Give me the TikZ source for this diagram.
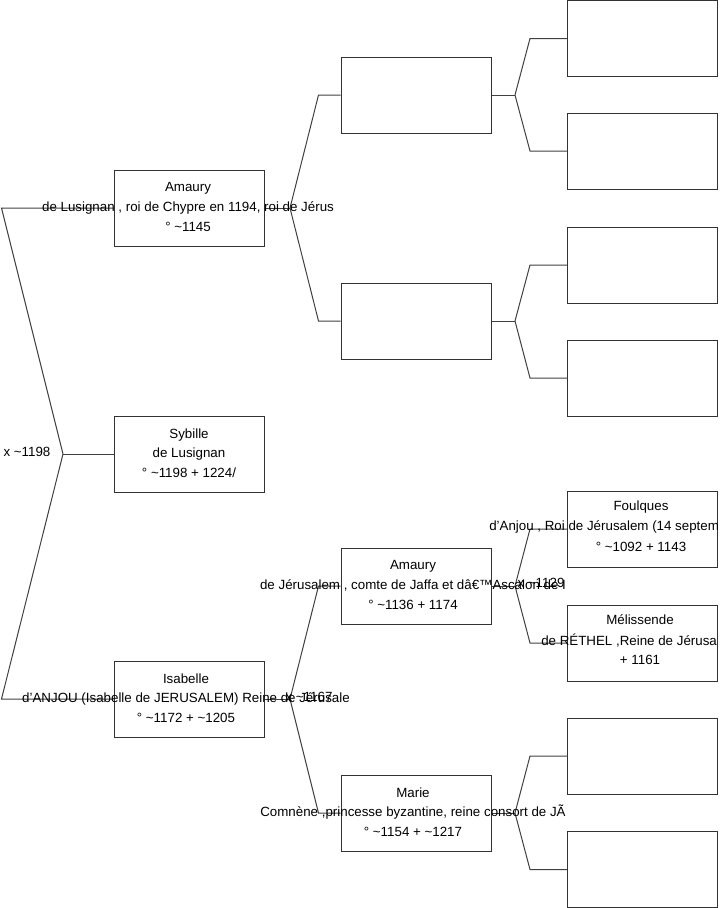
\documentclass[tikz,border=0pt]{standalone}
\usepackage{fontspec}
\setmainfont{Liberation Sans}
\usetikzlibrary{calc}
\begin{document}
\begin{tikzpicture}[x=0.75pt,y=-0.75pt,
 box/.style={draw=black!80, line width=0.75pt, minimum width=112.5pt, minimum height=57pt, inner sep=0pt},
 txt/.style={font=\fontsize{10}{14.8}\selectfont, align=center, inner sep=0pt},
 link/.style={draw=black!75, line width=0.75pt},
 lbl/.style={font=\fontsize{10}{12}\selectfont, inner sep=0pt}]
\useasboundingbox (0,0) rectangle (719,908);
% generation 1
\node[box] (a1) at (189,208) {};
\node[box] (a2) at (189,454) {};
\node[box] (a3) at (189,699) {};
% generation 2
\node[box] (b1) at (416,95) {};
\node[box] (b2) at (416,321) {};
\node[box] (b3) at (416,586) {};
\node[box] (b4) at (416,813) {};
% generation 3
\node[box] (c1) at (642.5,38.5) {};
\node[box] (c2) at (642.5,151) {};
\node[box] (c3) at (642.5,265) {};
\node[box] (c4) at (642.5,378) {};
\node[box] (c5) at (642.5,529) {};
\node[box] (c6) at (642.5,643) {};
\node[box] (c7) at (642.5,756) {};
\node[box] (c8) at (642.5,869.5) {};
% fork vertices
\coordinate (v0) at (63,454);
\coordinate (v1) at (290,208);
\coordinate (v2) at (290,699);
\coordinate (w1) at (515,95);
\coordinate (w2) at (515,321);
\coordinate (w3) at (515,586);
\coordinate (w4) at (515,813);
% connectors
\draw[link] (v0) -- (a2.west);
\draw[link] (v0) -- ($(a1.west)+(-112,0)$) -- (a1.west);
\draw[link] (v0) -- ($(a3.west)+(-112,0)$) -- (a3.west);
\draw[link] (a1.east) -- (v1);
\draw[link] (v1) -- ($(b1.west)+(-22,0)$) -- (b1.west);
\draw[link] (v1) -- ($(b2.west)+(-22,0)$) -- (b2.west);
\draw[link] (a3.east) -- (v2);
\draw[link] (v2) -- ($(b3.west)+(-22,0)$) -- (b3.west);
\draw[link] (v2) -- ($(b4.west)+(-22,0)$) -- (b4.west);
\draw[link] (b1.east) -- (w1);
\draw[link] (w1) -- ($(c1.west)+(-37,0)$) -- (c1.west);
\draw[link] (w1) -- ($(c2.west)+(-37,0)$) -- (c2.west);
\draw[link] (b2.east) -- (w2);
\draw[link] (w2) -- ($(c3.west)+(-37,0)$) -- (c3.west);
\draw[link] (w2) -- ($(c4.west)+(-37,0)$) -- (c4.west);
\draw[link] (b3.east) -- (w3);
\draw[link] (w3) -- ($(c5.west)+(-37,0)$) -- (c5.west);
\draw[link] (w3) -- ($(c6.west)+(-37,0)$) -- (c6.west);
\draw[link] (b4.east) -- (w4);
\draw[link] (w4) -- ($(c7.west)+(-37,0)$) -- (c7.west);
\draw[link] (w4) -- ($(c8.west)+(-37,0)$) -- (c8.west);
% marriage labels
\node[lbl] (m0) at (27,452) {x \textasciitilde1198};
\node[lbl] (m1) at (309,697) {x \textasciitilde1167};
\node[lbl] (m2) at (541,583) {x \textasciitilde1129};
% texts
\node[txt] (t1) at (188,207) {Amaury\\de Lusignan , roi de Chypre en 1194, roi de Jérus\\° \textasciitilde1145};
\node[txt] (t2) at (189,453) {Sybille\\de Lusignan\\° \textasciitilde1198 + 1224/};
\node[txt] (t3) at (186,698) {Isabelle\\d'ANJOU (Isabelle de JERUSALEM) Reine de Jérusale\\° \textasciitilde1172 + \textasciitilde1205};
\node[txt] (t4) at (413,585) {Amaury\\de Jérusalem , comte de Jaffa et dâ€™Ascalon de I\\° \textasciitilde1136 + 1174};
\node[txt] (t5) at (413,812) {Marie\\Comnène ,princesse byzantine, reine consort de JÃ\\° \textasciitilde1154 + \textasciitilde1217};
\node[txt] (t6a) at (641,507) {Foulques};
\node[txt, anchor=west] (t6b) at (489,527) {d'Anjou , Roi de Jérusalem (14 septem};
\node[txt] (t6c) at (641,547) {° \textasciitilde1092 + 1143};
\node[txt] (t7a) at (640,620) {Mélissende};
\node[txt, anchor=west] (t7b) at (541,641) {de RÉTHEL ,Reine de Jérusa};
\node[txt] (t7c) at (640,660) {+ 1161};
\end{tikzpicture}
\end{document}
